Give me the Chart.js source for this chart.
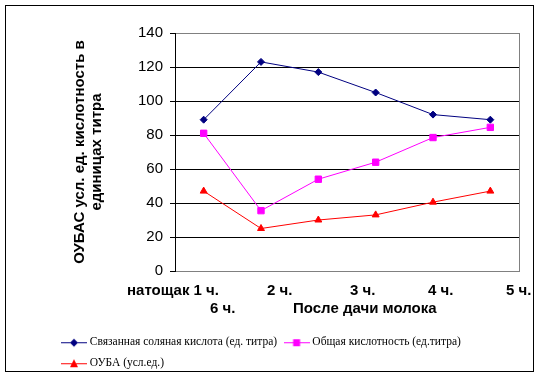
<!DOCTYPE html>
<html>
<head>
<meta charset="utf-8">
<script src="https://cdn.jsdelivr.net/npm/chart.js@4.4.1/dist/chart.umd.min.js"></script>
<style>
  html, body { margin: 0; padding: 0; background: #fff; overflow: hidden; }
  #wrap { position: relative; width: 540px; height: 377px; overflow: hidden; }
  #chart { position: absolute; left: 0; top: 0; }
  #frame { position: absolute; left: 5px; top: 5px; width: 529px; height: 367px;
           box-sizing: border-box; border: 1px solid #000; pointer-events: none; }
</style>
</head>
<body>
<div id="wrap">
  <canvas id="chart" width="540" height="379"></canvas>
  <div id="frame"></div>
</div>
<script>
const categories = ['натощак 1 ч.', '2 ч.', '3 ч.', '4 ч.', '5 ч.', '6 ч.'];
const xTitle = 'После дачи молока';
const yTitle = ['ОУБАС усл. ед. кислотность в', 'единицах титра'];

const seriesNames = [
    'Связанная соляная кислота (ед. титра)',
    'Общая кислотность (ед.титра)',
    'ОУБА (усл.ед.)'
];
const boundHCl = [89, 123, 117, 105, 92, 89];
const totalAcidity = [81, 35.5, 54, 64, 78.5, 84.5];
const ouba = [47, 25, 30, 33, 40.5, 47];

const yMin = 0, yMax = 140, yStep = 20;

const sansFont = '"Liberation Sans", Arial, sans-serif';
const serifFont = '"Liberation Serif", "Times New Roman", serif';

// legend icon: short line with the marker in the middle, like Excel
function legendIcon(color, shape) {
    const c = document.createElement('canvas');
    c.width = 26; c.height = 12;
    const g = c.getContext('2d');
    g.strokeStyle = color;
    g.fillStyle = color;
    g.lineWidth = 1;
    g.beginPath(); g.moveTo(0, 6.5); g.lineTo(26, 6.5); g.stroke();
    g.beginPath();
    if (shape === 'diamond') {
        g.moveTo(13, 2.5); g.lineTo(17, 6.5); g.lineTo(13, 10.5); g.lineTo(9, 6.5);
    } else if (shape === 'square') {
        g.rect(9.5, 3, 7, 7);
    } else {
        g.moveTo(13, 2); g.lineTo(17, 10); g.lineTo(9, 10);
    }
    g.closePath();
    g.fill();
    return c;
}
const legendIcons = [
    legendIcon('#000080', 'diamond'),
    legendIcon('#FF00FF', 'square'),
    legendIcon('#FF0000', 'triangle')
];

// category captions under the plot, placed the way Excel wrapped them
const xCaption = {
    id: 'xCaption',
    afterDraw(chart) {
        const {ctx, chartArea} = chart;
        ctx.save();
        ctx.font = 'bold 15px ' + sansFont;
        ctx.fillStyle = '#000';
        ctx.textBaseline = 'middle';
        ctx.textAlign = 'left';
        const row1 = chartArea.bottom + 20;
        const row2 = row1 + 17.5;
        const xs = [127, 267, 350, 428, 506];
        for (let i = 0; i < 5; i++) {
            ctx.fillText(categories[i], xs[i], row1);
        }
        ctx.fillText(categories[5], 210, row2);
        ctx.fillText(xTitle, 293, row2);
        ctx.restore();
    }
};

// gray right edge of the plot area
const plotFrame = {
    id: 'plotFrame',
    beforeDatasetsDraw(chart) {
        const {ctx, chartArea} = chart;
        ctx.save();
        ctx.strokeStyle = '#808080';
        ctx.lineWidth = 1;
        ctx.beginPath();
        ctx.moveTo(Math.round(chartArea.right) + 0.5, chartArea.top);
        ctx.lineTo(Math.round(chartArea.right) + 0.5, chartArea.bottom);
        ctx.stroke();
        ctx.restore();
    }
};

function makeDataset(label, data, color, style, radius) {
    return {
        label: label,
        data: data,
        borderColor: color,
        backgroundColor: color,
        borderWidth: 1,
        pointStyle: style,
        pointRadius: radius,
        pointHoverRadius: radius,
        pointBorderWidth: 1,
        pointBackgroundColor: color,
        pointBorderColor: color,
        tension: 0
    };
}

new Chart(document.getElementById('chart'), {
    type: 'line',
    data: {
        labels: categories,
        datasets: [
            makeDataset(seriesNames[0], boundHCl, '#000080', 'rectRot', 3.5),
            makeDataset(seriesNames[1], totalAcidity, '#FF00FF', 'rect', 4.5),
            makeDataset(seriesNames[2], ouba, '#FF0000', 'triangle', 4)
        ]
    },
    plugins: [xCaption, plotFrame],
    options: {
        responsive: false,
        animation: false,
        layout: { padding: { left: 54.5, right: 21, top: 33, bottom: 0 } },
        plugins: {
            tooltip: { enabled: false },
            legend: {
                position: 'bottom',
                align: 'start',
                labels: {
                    usePointStyle: true,
                    pointStyleWidth: 20,
                    padding: 9.5,
                    color: '#000',
                    font: { family: serifFont, size: 11.5 },
                    generateLabels(chart) {
                        const items = Chart.defaults.plugins.legend.labels.generateLabels(chart);
                        items.forEach((it, i) => { it.pointStyle = legendIcons[i]; });
                        return items;
                    }
                }
            }
        },
        scales: {
            x: {
                offset: true,
                grid: { display: false },
                border: { color: '#808080', width: 1 },
                ticks: { display: false },
                afterFit(scale) { scale.height = 56; }
            },
            y: {
                min: yMin,
                max: yMax,
                ticks: {
                    stepSize: yStep,
                    color: '#000',
                    padding: 7,
                    font: { family: sansFont, size: 15 }
                },
                grid: {
                    color: (ctx) => (ctx.tick && (ctx.tick.value === yMax || ctx.tick.value === yMin)) ? '#808080' : '#000',
                    tickColor: '#000',
                    tickLength: 5,
                    lineWidth: 1
                },
                border: { color: '#000', width: 1 },
                title: {
                    display: true,
                    text: yTitle,
                    color: '#000',
                    padding: { top: 17, bottom: 0 },
                    font: { family: sansFont, size: 15, weight: 'bold', lineHeight: '17px' }
                },
                afterFit(scale) { scale.width = 120.5; }
            }
        }
    }
});
</script>
</body>
</html>
